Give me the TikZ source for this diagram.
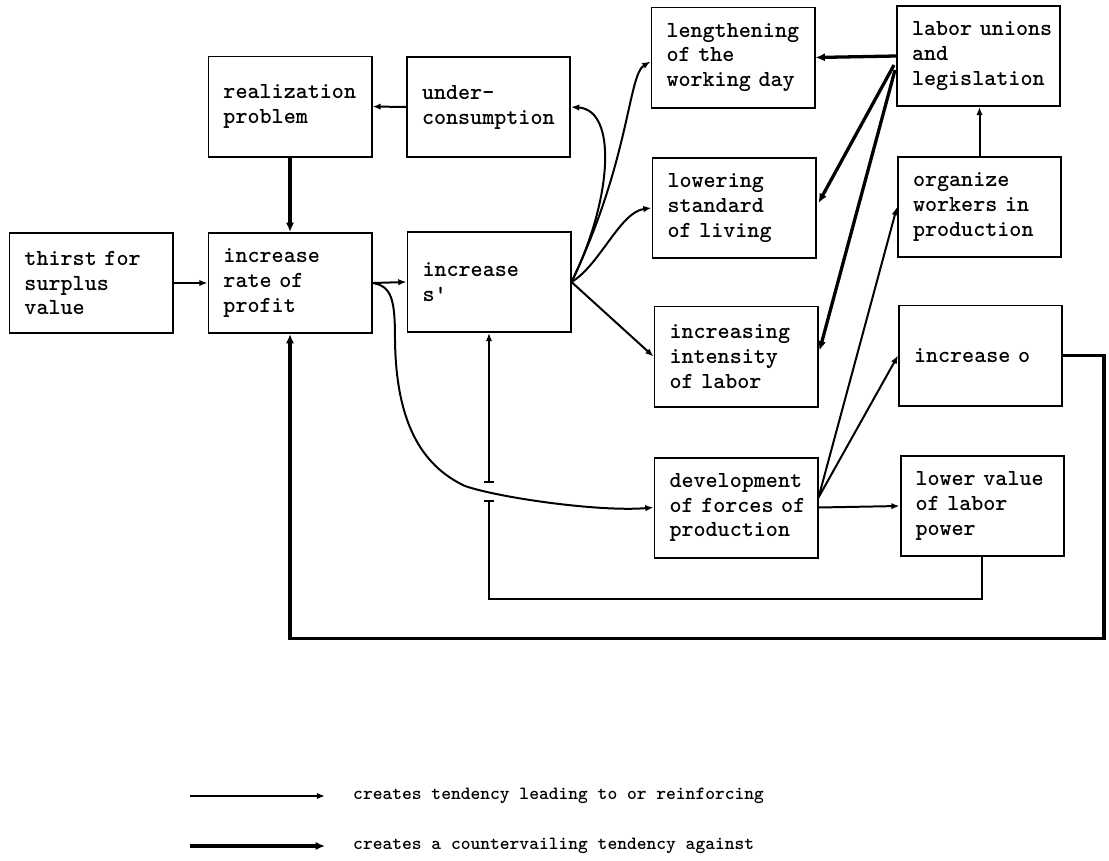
\documentclass[tikz,border=0pt]{standalone}
\usetikzlibrary{arrows.meta,calc}
\begin{document}
\begin{tikzpicture}[x=0.03cm,y=-0.03cm,
  box/.style={draw, line width=1.7pt, minimum width=4.89cm, minimum height=3cm,
    text width=3.99cm, inner xsep=0.45cm, inner ysep=0pt, align=left,
    font=\ttfamily\bfseries\fontsize{19.6}{21.3}\selectfont},
  tend/.style={line width=1.7pt, -{Latex[length=7pt,width=5.5pt]}},
  counter/.style={line width=2.8pt, -{Latex[length=8pt,width=7pt]}},
  legendtext/.style={anchor=west, inner sep=0pt,
    font=\ttfamily\bfseries\fontsize{15.9}{18}\selectfont}
]
\useasboundingbox[fill=white] (0,0) rectangle (1109,861);

% boxes
\node[box] (thirst) at (91,283) {thirst~for\\surplus\\value};
\node[box] (profit) at (290,283) {increase\\rate~of\\profit};
\node[box] (real) at (290,106.5) {realization\\problem};
\node[box] (under) at (488.5,107) {under-\\consumption};
\node[box] (s) at (489,282) {increase\\s\textquotesingle};
\node[box] (length) at (733,57.5) {lengthening\\of~the\\working~day};
\node[box] (lower) at (734,208) {lowering\\standard\\of~living};
\node[box] (intens) at (736,356.5) {increasing\\intensity\\of~labor};
\node[box] (dev) at (736,507.5) {development\\of~forces~of\\production};
\node[box] (labor) at (978.5,56) {labor~unions\\and\\legislation};
\node[box] (org) at (979.5,207) {organize\\workers~in\\production};
\node[box] (inco) at (980.5,355.5) {increase~o};
\node[box] (lval) at (982,506) {lower~value\\of~labor\\power};

% tendencies
\draw[tend] (thirst.east) -- (profit.west);
\draw[tend] (under.west) -- (real.east);
\draw[tend] (profit.east) -- (s.west);
\draw[tend] (profit.east) .. controls (392,286) and (395,300) .. (395,340)
  .. controls (396,420) and (420,465) .. (465,486)
  .. controls (500,498) and (600,512) .. (dev.west);
\draw[tend] (s.east) .. controls (612,200) and (618,110) .. (under.east);
\draw[tend] (s.east) .. controls (630,160) and (628,75) .. ($(length.west)+(0,4)$);
\draw[tend] (s.east) .. controls (600,265) and (620,212) .. (lower.west);
\draw[tend] (s.east) -- (intens.west);

\coordinate (dfan) at ($(dev.east)+(0,-10)$);
\draw[tend] (dfan) -- (org.west);
\draw[tend] (dfan) -- (inco.west);
\draw[tend] (dev.east) -- (lval.west);
\draw[tend] (org.north) -- (org.north |- labor.south);

% lower value of labor power back to s', jumping over the curve
\coordinate (gapB) at (s.south |- 0,500);
\coordinate (gapT) at (s.south |- 0,483);
\draw[line width=1.7pt, -{Bar[width=8pt]}] (lval.south) -- ++(0,42) -| (gapB);
\draw[line width=1.7pt, {Bar[width=8pt]}-{Latex[length=7pt,width=5.5pt]}] (gapT) -- (s.south);

% countervailing tendencies
\draw[counter] (real.south) -- (profit.north);
\draw[counter] (inco.east) -- ++(41,0) -- ++(0,283) -| (profit.south);
\draw[counter] (labor.west) -- (length.east);
\draw[counter] ($(labor.west)+(-2,9)$) -- ($(lower.east)+(2,-5)$);
\draw[counter] ($(labor.west)+(-1,14)$) -- ($(intens.east)+(1,-6)$);

% legend
\coordinate (la) at (190,796);
\coordinate (lb) at (325,796);
\coordinate (lc) at (190,846);
\coordinate (ld) at (325,846);
\draw[tend] (la) -- (lb);
\draw[counter] (lc) -- (ld);
\node[legendtext] (lt1) at (353,796) {creates tendency leading to or reinforcing};
\node[legendtext] (lt2) at (353,846) {creates a countervailing tendency against};
\end{tikzpicture}
\end{document}
